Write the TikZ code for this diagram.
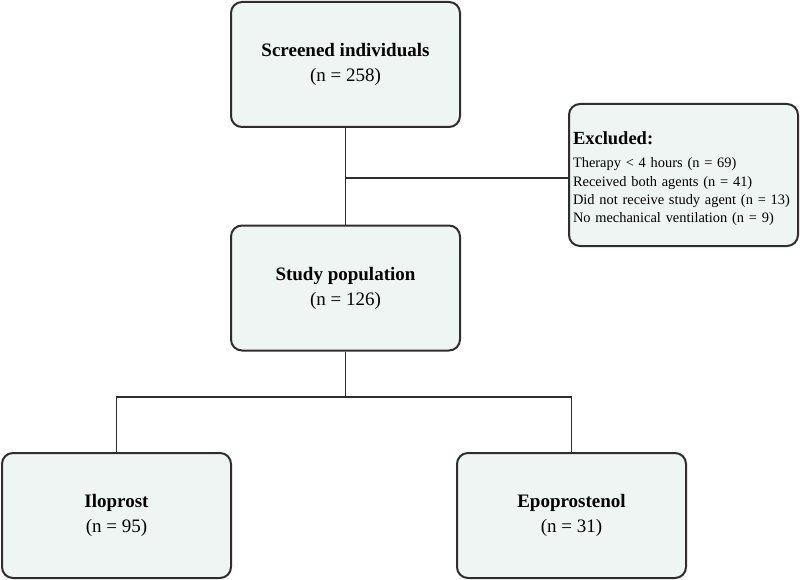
\documentclass[tikz,border=0pt]{standalone}
\usepackage{fontspec}
\setmainfont{Liberation Serif}
\definecolor{boxfill}{HTML}{EEF5F3}
\definecolor{boxline}{HTML}{2E2E2E}
\begin{document}
\begin{tikzpicture}[x=1pt,y=-1pt,
  flowbox/.style={draw=boxline, line width=2pt, fill=boxfill, rounded corners=11pt,
    minimum width=229pt, minimum height=125pt, align=center, inner sep=0pt,
    font=\fontsize{19}{25}\selectfont},
  conn/.style={draw=boxline, line width=1.8pt}]
\useasboundingbox (0,0) rectangle (800,580);
\node[flowbox] (scr) at (345.5,64.5) {\textbf{Screened individuals}\\(n = 258)};
\node[flowbox] (stu) at (345.5,288) {\textbf{Study population}\\(n = 126)};
\node[flowbox] (ilo) at (116.5,515.5) {\textbf{Iloprost}\\(n = 95)};
\node[flowbox] (epo) at (571.5,515.5) {\textbf{Epoprostenol}\\(n = 31)};
\node[flowbox, minimum height=142pt, text width=221pt, inner xsep=4pt, align=left,
  font=\fontsize{14.4}{18.3}\selectfont] (exc) at (683.5,175)
  {\mbox{}\\[2pt]
   {\fontsize{18.5}{22}\selectfont\textbf{Excluded:}}\\[5pt]
   Therapy < 4 hours (n = 69)\\
   Received both agents (n = 41)\\
   Did not receive study agent (n = 13)\\
   No mechanical ventilation (n = 9)};
\coordinate (j1) at (345.5,178);
\coordinate (j2) at (345.5,397);
\draw[conn] (scr.south) -- (stu.north);
\draw[conn] (j1) -- (j1 -| exc.west);
\draw[conn] (stu.south) -- (j2);
\draw[conn] (ilo.north) |- (j2) -| (epo.north);
\end{tikzpicture}
\end{document}
